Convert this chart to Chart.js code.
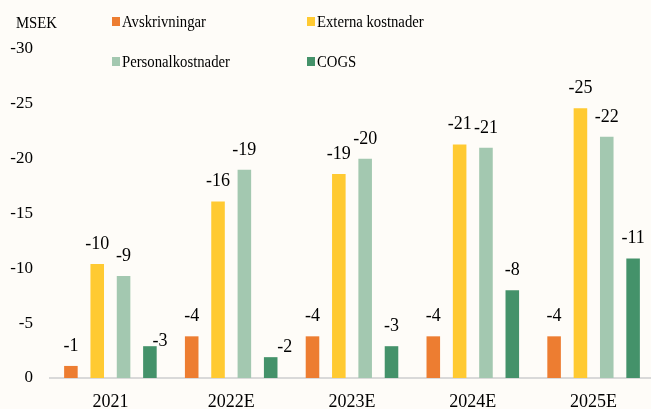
<!DOCTYPE html>
<html>
<head>
<meta charset="utf-8">
<script src="https://cdn.jsdelivr.net/npm/chart.js@4.4.0/dist/chart.umd.min.js"></script>
<style>
  html, body { margin: 0; padding: 0; background: #fefcf8; overflow: hidden; }
  #wrap { position: relative; width: 654px; height: 409px; }
  .lg { position: absolute; font-family: "Liberation Serif", "Times New Roman", serif; font-size: 16px; color: #000; white-space: nowrap; line-height: 1; transform: scaleX(0.92); transform-origin: left center; }
  .sw { position: absolute; width: 8px; height: 9px; }
</style>
</head>
<body>
<div id="wrap">
  <canvas id="costChart"></canvas>
  <div class="lg" style="left:16px; top:15px;">MSEK</div>
  <div id="legend"></div>
</div>
<script>
// kategorier och serier (MSEK, negativa = kostnader)
const years = ['2021', '2022E', '2023E', '2024E', '2025E'];
const avskrivningar = [-1.1, -3.8, -3.8, -3.8, -3.8];
const externaKostnader = [-10.4, -16.1, -18.6, -21.3, -24.6];
const personalkostnader = [-9.3, -19.0, -20.0, -21.0, -22.0];
const cogs = [-2.9, -1.9, -2.9, -8.0, -10.9];
const yTicks = [0, -5, -10, -15, -20, -25, -30];

const seriesNames = ['Avskrivningar', 'Externa kostnader', 'Personalkostnader', 'COGS'];
const seriesColors = ['#ed7d31', '#ffca32', '#a3c8b0', '#44926a'];

// etiketter som flyttats lite i originalet (dataset, index) -> [dx, dy]
const labelNudge = { '3-0': [10, 15], '3-1': [14, 10] };

// legend i två kolumner
const legendPos = [[112, 17], [307, 17], [112, 57], [307, 57]];
const legendEl = document.getElementById('legend');
seriesNames.forEach((name, i) => {
    const [x, y] = legendPos[i];
    legendEl.innerHTML += `<div class="sw" style="left:${x}px; top:${y}px; background:${seriesColors[i]}"></div>` +
        `<div class="lg" style="left:${x + 10}px; top:${y - 3}px;">${name}</div>`;
});

// etiketter ovanför staplarna
const valueLabels = {
    id: 'valueLabels',
    afterDatasetsDraw(chart) {
        const ctx = chart.ctx;
        ctx.save();
        ctx.font = '18px "Liberation Serif", "Times New Roman", serif';
        ctx.fillStyle = '#000';
        ctx.textAlign = 'center';
        ctx.textBaseline = 'alphabetic';
        chart.data.datasets.forEach((ds, di) => {
            chart.getDatasetMeta(di).data.forEach((bar, i) => {
                const nudge = labelNudge[di + '-' + i] || [0, 0];
                const txt = (-Math.round(Math.abs(ds.data[i]))).toString();
                ctx.fillText(txt, bar.x + nudge[0], bar.y - 15 + nudge[1]);
            });
        });
        ctx.restore();
    }
};

const datasets = [avskrivningar, externaKostnader, personalkostnader, cogs].map((values, i) => ({
    label: seriesNames[i],
    data: values,
    backgroundColor: seriesColors[i],
    borderWidth: 0,
    categoryPercentage: 0.872,
    barPercentage: 0.515
}));

const ctx = document.getElementById('costChart').getContext('2d');
new Chart(ctx, {
    type: 'bar',
    data: { labels: years, datasets: datasets },
    options: {
        responsive: true,
        maintainAspectRatio: false,
        animation: false,
        layout: { padding: { top: 49, left: 0, right: 0, bottom: 0 } },
        plugins: {
            legend: { display: false },
            tooltip: { enabled: false }
        },
        scales: {
            x: {
                grid: { display: false, drawTicks: false },
                border: { display: true, color: '#d9d9d9', width: 2 },
                ticks: {
                    color: '#000',
                    padding: 13,
                    font: { family: '"Liberation Serif", "Times New Roman", serif', size: 18 }
                },
                afterFit(scale) { scale.height = 31; }
            },
            y: {
                reverse: true,
                min: -30,
                max: 0,
                grid: { display: false, drawTicks: false },
                border: { display: false },
                afterBuildTicks(scale) { scale.ticks = yTicks.map(v => ({ value: v })); },
                ticks: {
                    color: '#000',
                    padding: 17,
                    font: { family: '"Liberation Serif", "Times New Roman", serif', size: 17 }
                },
                afterFit(scale) { scale.width = 50; }
            }
        }
    },
    plugins: [valueLabels]
});
</script>
</body>
</html>
